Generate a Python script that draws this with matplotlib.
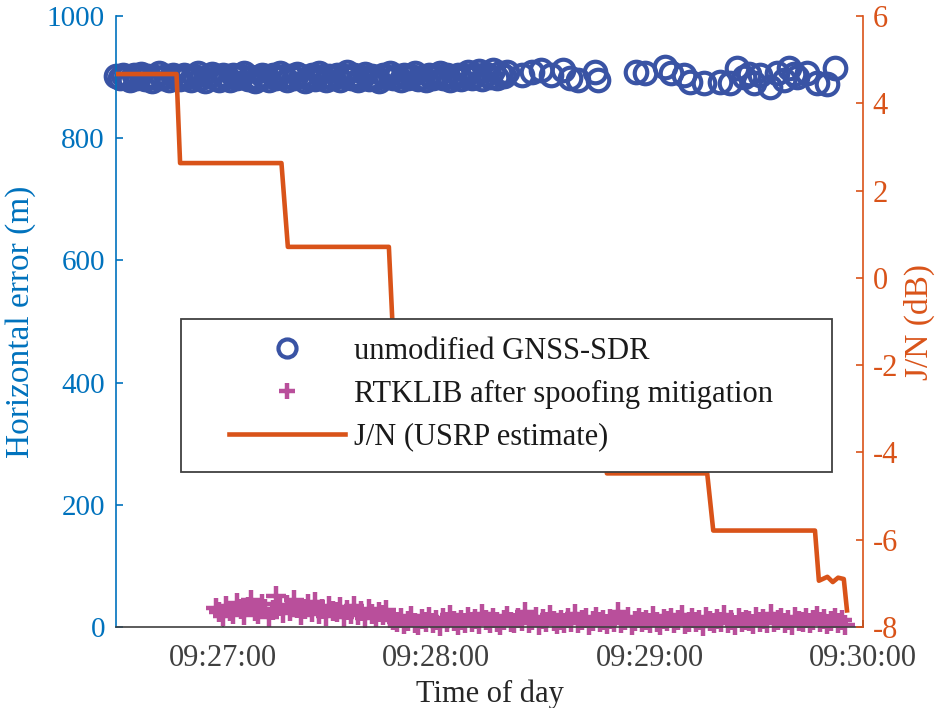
import matplotlib
matplotlib.use("Agg")
import matplotlib.pyplot as plt
from matplotlib.patches import Rectangle
from matplotlib.ticker import FuncFormatter
import numpy as np

plt.rcParams['font.family'] = ['Liberation Serif', 'DejaVu Serif']
plt.rcParams['axes.unicode_minus'] = False

# time axis: seconds relative to 09:27:00
T0 = 9 * 3600 + 27 * 60

# unmodified GNSS-SDR horizontal error (m), dense part once per second from -30 s
sdr_dense = [902, 898, 904, 900, 896, 903, 899, 905, 897, 901,
             894, 900, 906, 898, 902, 895, 903, 899, 897, 904,
             900, 896, 902, 907, 898, 894, 901, 905, 899, 896,
             903, 900, 895, 904, 898, 902, 906, 897, 900, 893,
             899, 904, 901, 896, 903, 898, 907, 900, 895, 902,
             898, 905, 901, 894, 899, 903, 897, 906, 900, 896,
             902, 899, 904, 895, 901, 908, 898, 903, 896, 900,
             905, 897, 902, 899, 894, 903, 900, 906, 898, 901,
             896, 904, 899, 902, 907, 897, 900, 895, 903, 899,
             901, 906, 898, 903, 895, 900, 904, 897, 902, 908,
             899, 903, 910, 897, 905, 900, 912, 898, 906, 902, 909]
sdr_t_sparse = [84, 87, 89.5, 92.3, 95.7, 97.6, 99.9, 104.6, 105.5, 116.1,
                118.6, 124.2, 125.9, 129.8, 131.5, 135.4, 139.9, 142.7, 144.6, 146.6,
                148, 149.4, 151.1, 153.9, 155.9, 157.8, 159.2, 160.5, 161.4, 164.2,
                167, 170, 172.1]
sdr_sparse = [903, 908, 912, 903, 912, 899, 895, 908, 895, 908,
              907, 916, 907, 903, 892, 890, 892, 890, 915, 900,
              905, 890, 903, 884, 907, 895, 915, 905, 900, 907,
              890, 888, 915]

# RTKLIB after spoofing mitigation (m), one value per second from -2 s
rtk = [31, 24, 18, 35, 27, 22, 40, 29, 19, 33,
       45, 26, 21, 38, 30, 17, 28, 50, 34, 23,
       36, 27, 44, 31, 20, 29, 37, 25, 41, 22,
       30, 18, 35, 27, 24, 32, 16, 28, 21, 34,
       19, 26, 15, 30, 22, 17, 25, 20, 28, 14,
       12, 8, 15, 5, 10, 18, 7, 3, 13, 9,
       16, 6, 11, 2, 14, 8, 20, 10, 4, 12,
       7, 17, 9, 13, 5, 22, 11, 6, 15, 8,
       3, 12, 18, 9, 7, 14, 10, 25, 6, 11,
       16, 4, 13, 8, 19, 10, 5, 12, 7, 15,
       9, 21, 6, 11, 14, 3, 10, 17, 8, 12,
       5, 13, 9, 24, 7, 11, 16, 4, 10, 14,
       8, 12, 6, 18, 9, 3, 13, 10, 15, 7,
       11, 20, 5, 9, 14, 8, 12, 2, 16, 10,
       6, 13, 9, 19, 7, 11, 4, 15, 8, 12,
       10, 5, 17, 9, 13, 6, 22, 8, 11, 14,
       7, 12, 3, 16, 10, 9, 14, 6, 11, 18,
       8, 13, 5, 10, 15, 7, 12, 4]

# J/N (USRP estimate), dB
jn_t = [-30, -13, -12, 16.5, 18.3, 46.7, 47.8, 77, 78, 107,
        108, 136.2, 137.9, 166.5, 167.6, 170, 171.5, 173, 174.6, 175.5]
jn = [4.67, 4.67, 2.63, 2.63, 0.71, 0.71, -1.2, -1.2, -2.9, -2.9,
      -4.48, -4.48, -5.79, -5.79, -6.94, -6.85, -6.97, -6.87, -6.9, -7.62]

sdr_t = list(np.arange(-30, -30 + len(sdr_dense))) + sdr_t_sparse
sdr = sdr_dense + sdr_sparse
rtk_t = np.arange(-2, -2 + len(rtk))

BLUE = '#0072BD'
ORANGE = '#D95319'
GREY = '#262626'

fig = plt.figure(figsize=(9.36, 7.08), dpi=100)
ax = fig.add_axes([0.124, 0.1144, 0.798, 0.8630])
ax2 = ax.twinx()

h1, = ax.plot(sdr_t, sdr, 'o', ls='none', mfc='none', mec='#3953A4',
              ms=15.5, mew=3, label='unmodified GNSS-SDR', clip_on=False)
h2, = ax.plot(rtk_t, rtk, '+', ls='none', color='#B94F9B',
              ms=14.5, mew=3.2, label='RTKLIB after spoofing mitigation', clip_on=False)
h3, = ax2.plot(jn_t, jn, color=ORANGE, lw=3.3, label='J/N (USRP estimate)')

ax.set_xlim(-30, 180)
ax.set_ylim(0, 1000)
ax2.set_ylim(-8, 6)
ax.set_yticks(range(0, 1001, 200))
ax2.set_yticks(range(-8, 7, 2))
ax.set_xticks([0, 60, 120, 180])


def fmt_time(s, pos):
    tot = T0 + int(round(s))
    return f"{tot // 3600:02d}:{(tot % 3600) // 60:02d}:{tot % 60:02d}"


ax.xaxis.set_major_formatter(FuncFormatter(fmt_time))

for a in (ax, ax2):
    a.spines['top'].set_visible(False)
ax.spines['left'].set_color(BLUE)
ax.spines['bottom'].set_color('#404040')
ax.spines['right'].set_visible(False)
ax2.spines['left'].set_visible(False)
ax2.spines['bottom'].set_visible(False)
ax2.spines['right'].set_color(ORANGE)
for sp in ('left', 'bottom'):
    ax.spines[sp].set_linewidth(1.2)
ax2.spines['right'].set_linewidth(1.2)

ax.tick_params(axis='y', direction='in', length=5, width=1.2, colors=BLUE,
               labelsize=21, pad=8)
ax.tick_params(axis='x', direction='in', length=5, width=1.2, colors='#404040',
               labelsize=22, pad=12)
ax2.tick_params(axis='y', direction='in', length=5, width=1.2, colors=ORANGE,
                labelsize=22, pad=7)

ax.set_xlabel('Time of day', fontsize=22, color=GREY, labelpad=5)
ax.set_ylabel('Horizontal error (m)', fontsize=24, color=BLUE, labelpad=8)
ax2.set_ylabel('J/N (dB)', fontsize=24, color=ORANGE, labelpad=4)

# legend box (drawn separately to get MATLAB-style padding)
box = Rectangle((0.087, 0.2537), 0.8715, 0.2504, transform=ax2.transAxes,
                facecolor='white', edgecolor='#404040', lw=1.3, zorder=5)
ax2.add_patch(box)
leg = ax2.legend([h1, h2, h3], [h.get_label() for h in (h1, h2, h3)],
                 loc='upper left', bbox_to_anchor=(0.151, 0.475),
                 frameon=False, fontsize=22, handlelength=3.8,
                 handletextpad=0.3, labelspacing=0.45, borderpad=0,
                 borderaxespad=0)
leg.set_zorder(6)
leg.legend_handles[0].set_markersize(13)
leg.legend_handles[1].set_markersize(11)
for t in leg.get_texts():
    t.set_color('#1a1a1a')

fig.savefig('out.png', dpi=100)
